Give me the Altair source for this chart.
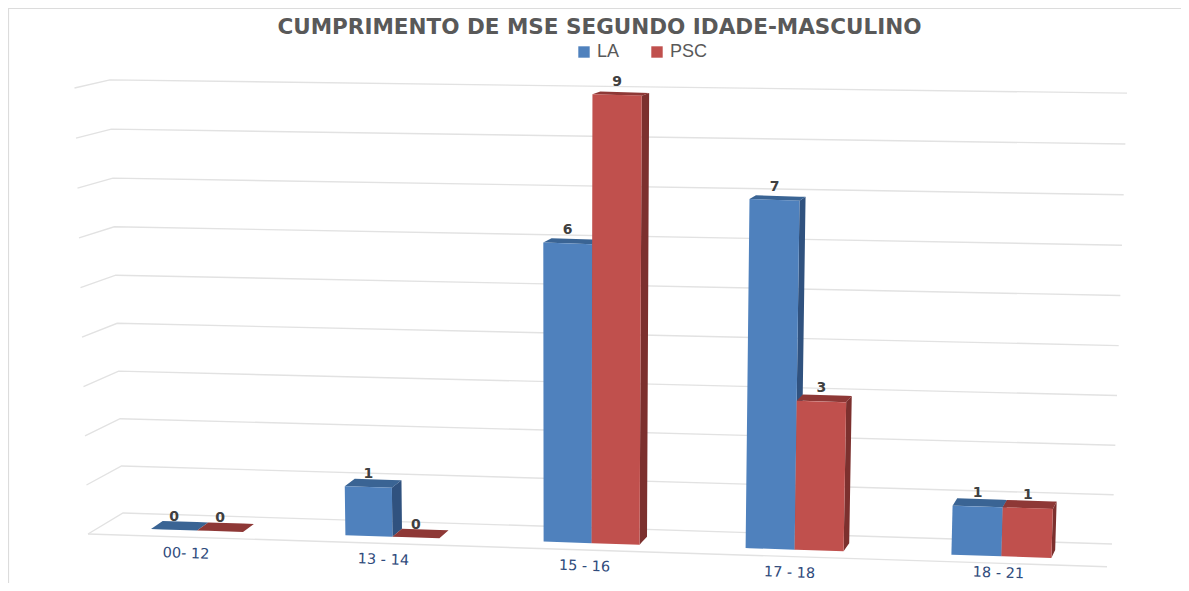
import altair as alt
import pandas as pd

# ---- data ----
categories = ["00- 12", "13 - 14", "15 - 16", "17 - 18", "18 - 21"]
la_values = [0, 1, 6, 7, 1]
psc_values = [0, 0, 9, 3, 1]
grid_levels = list(range(0, 10))
chart_title = "CUMPRIMENTO DE MSE SEGUNDO IDADE-MASCULINO"

# ---- colours ----
BLUE, BLUE_SIDE, BLUE_TOP = "#4f81bd", "#30527f", "#3a6494"
RED, RED_SIDE, RED_TOP = "#c0504d", "#7c302e", "#8e3836"
GRID = "#e2e2e2"


# ---- 3-D look: how a category index and a value land on the picture plane ----
def group_x(i):
    return 151 + 192.5 * i + 1.9 * i * i


def bar_w(i):
    return 46 + i


def floor_y(x):
    return 529 + 0.0321 * (x - 151)


def lift(v):
    return max(0, 50 * v - 1)


def lean(x, v):
    return 0.003 * (x - 560) * v


def depth_x(x):
    return 12.5 - 0.0088 * (x - 60)


def depth_y(v):
    return 8 - 0.6 * v


def area_rows(poly, pid):
    """Convex polygon -> rows of an area mark (x, y, y2)."""
    rows = []
    xs = sorted({round(p[0], 3) for p in poly})
    n = len(poly)
    for x in xs:
        ys = []
        for k in range(n):
            (x1, y1), (x2, y2) = poly[k], poly[(k + 1) % n]
            lo, hi = min(x1, x2) - 0.002, max(x1, x2) + 0.002
            if lo <= x <= hi:
                if abs(x2 - x1) < 0.004:
                    ys += [y1, y2]
                else:
                    ys.append(y1 + (y2 - y1) * (x - x1) / (x2 - x1))
        rows.append({"id": pid, "x": x, "y": min(ys), "y2": max(ys)})
    return rows


def bar_faces(i, slot, v):
    w = bar_w(i)
    x0 = group_x(i) + slot * w
    x1 = x0 + w
    yb0, yb1 = floor_y(x0), floor_y(x1)
    tl = (x0 + lean(x0, v), yb0 - lift(v))
    tr = (x1 + lean(x1, v), yb1 - lift(v))
    dxl, dxr = depth_x(x0), depth_x(x1)
    dy = depth_y(v)
    front = [tl, tr, (x1, yb1), (x0, yb0)]
    top = [tl, (tl[0] + dxl, tl[1] - dy), (tr[0] + dxr, tr[1] - dy), tr]
    side = [tr, (tr[0] + dxr, tr[1] - dy), (x1 + dxr, yb1 - 8), (x1, yb1)]
    return front, top, side, ((tl[0] + tr[0]) / 2, (tl[1] + tr[1]) / 2)


xs = alt.Scale(domain=[8, 1181], nice=False, zero=False)
ys = alt.Scale(domain=[583, 8], nice=False, zero=False)
X = alt.X("x:Q", scale=xs, axis=None)
Y = alt.Y("y:Q", scale=ys, axis=None)
color_scale = alt.Scale(domain=["LA", "PSC"], range=[BLUE, RED])

layers = []

# frame
frame = pd.DataFrame(
    [
        {"id": "t", "n": 0, "x": 8, "y": 8.5},
        {"id": "t", "n": 1, "x": 1181, "y": 8.5},
        {"id": "l", "n": 0, "x": 8.5, "y": 8.5},
        {"id": "l", "n": 1, "x": 8.5, "y": 583},
    ]
)
layers.append(
    alt.Chart(frame)
    .mark_line(color="#dcdcdc", strokeWidth=1.2)
    .encode(x=X, y=Y, detail="id:N", order="n:Q")
)

# grid
grid_rows = []
for v in grid_levels:
    grid_rows += [
        {"id": f"g{v}", "n": 0, "x": 88 - 1.5 * v, "y": 534 - 48.93 * v - 0.07 * v * v},
        {"id": f"g{v}", "n": 1, "x": 123 - 1.45 * v, "y": 513 - 46.86 * v - 0.14 * v * v},
        {"id": f"g{v}", "n": 2, "x": 1112 + 1.67 * v, "y": 544 - 49.2 * v - 0.1 * v * v},
    ]
grid_rows += [
    {"id": "front", "n": 0, "x": 88, "y": floor_y(88) + 7},
    {"id": "front", "n": 1, "x": 1107, "y": floor_y(1107) + 7},
]
layers.append(
    alt.Chart(pd.DataFrame(grid_rows))
    .mark_line(color=GRID, strokeWidth=1.4)
    .encode(x=X, y=Y, detail="id:N", order="n:Q")
)

# bars: back series first, its faces painted shade first
labels = []
for slot, (name, vals, c_side, c_top) in enumerate(
    [("LA", la_values, BLUE_SIDE, BLUE_TOP), ("PSC", psc_values, RED_SIDE, RED_TOP)]
):
    fr, tp, sd = [], [], []
    for i, v in enumerate(vals):
        front, top, side, tc = bar_faces(i, slot, v)
        fr += area_rows(front, f"f{i}")
        tp += area_rows(top, f"t{i}")
        sd += area_rows(side, f"s{i}")
        labels.append({"x": tc[0], "y": tc[1] - 13, "t": str(v)})
    for rows, col in ((sd, c_side), (tp, c_top)):
        layers.append(
            alt.Chart(pd.DataFrame(rows))
            .mark_area(color=col, interpolate="linear")
            .encode(x=X, y=Y, y2="y2:Q", detail="id:N")
        )
    fdf = pd.DataFrame(fr)
    fdf["series"] = name
    layers.append(
        alt.Chart(fdf)
        .mark_area(interpolate="linear")
        .encode(
            x=X,
            y=Y,
            y2="y2:Q",
            detail="id:N",
            color=alt.Color(
                "series:N",
                scale=color_scale,
                legend=alt.Legend(
                    title=None,
                    orient="none",
                    legendX=567,
                    legendY=35,
                    direction="horizontal",
                    symbolType="square",
                    symbolSize=130,
                    symbolStrokeWidth=0,
                    labelFontSize=18,
                    labelFont="Liberation Sans",
                    labelColor="#595959",
                    labelOffset=4,
                    columnPadding=28,
                ),
            ),
        )
    )

layers.append(
    alt.Chart(pd.DataFrame(labels))
    .mark_text(font="DejaVu Sans", fontWeight="bold", fontSize=14, color="#404040", baseline="middle")
    .encode(x=X, y=Y, text="t:N")
)

cat_rows = []
for i, c in enumerate(categories):
    cx = group_x(i) + bar_w(i)
    cat_rows.append(
        {"x": cx - 11 + (cx - 197) * 8 / 806, "y": min(floor_y(cx) + 23.5, 573.5), "t": c}
    )
layers.append(
    alt.Chart(pd.DataFrame(cat_rows))
    .mark_text(font="DejaVu Sans", fontSize=14.5, color="#2f4b7c", angle=2, baseline="middle")
    .encode(x=X, y=Y, text="t:N")
)

chart = (
    alt.layer(*layers)
    .resolve_scale(x="shared", y="shared")
    .properties(
        width=1173,
        height=575,
        padding=0,
        autosize=alt.AutoSizeParams(type="none"),
        title=alt.TitleParams(
            chart_title,
            anchor="middle",
            font="DejaVu Sans",
            fontWeight="bold",
            fontSize=21.5,
            color="#595959",
            offset=-32,
            dx=5,
        ),
    )
    .configure_view(stroke=None)
)

chart.save("out.html", embed_options={"renderer": "svg", "actions": False})
